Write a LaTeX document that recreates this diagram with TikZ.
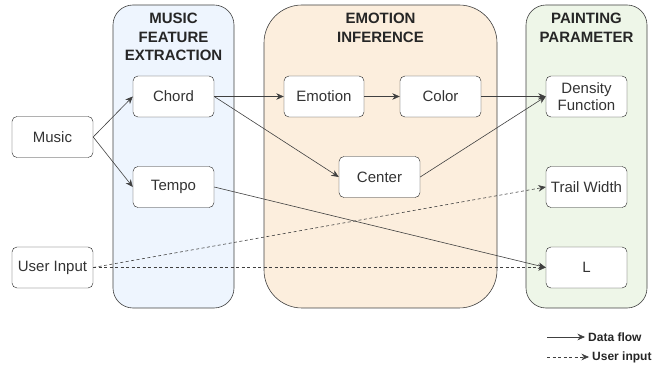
\documentclass[tikz,border=0pt]{standalone}
\usepackage{fontspec}
\setmainfont{Liberation Sans}
\usetikzlibrary{positioning,arrows.meta}
\definecolor{MFBlue}{HTML}{EEF5FE}
\definecolor{MFOrange}{HTML}{FCEEDD}
\definecolor{MFGreen}{HTML}{EEF6E8}
\definecolor{MFLine}{HTML}{404040}
\definecolor{MFEdge}{HTML}{222222}

\begin{document}
\begin{tikzpicture}[
    x=1pt, y=-1pt,
    every node/.style={align=center},
    group/.style={draw=MFLine, semithick, minimum width=121pt, minimum height=303pt, inner sep=0pt},
    title/.style={font=\fontsize{15}{18.5}\selectfont\bfseries, inner sep=0pt, anchor=north, text=black!85},
    box/.style={draw=MFEdge, fill=white, rounded corners=5pt, minimum width=81pt, minimum height=41pt,
      inner sep=1pt, font=\fontsize{15}{17}\selectfont, text=black!80},
    legend/.style={font=\fontsize{12}{14}\selectfont\bfseries, inner sep=0pt, anchor=west, text=black!85},
    arrow/.style={-{Stealth[length=7.5pt,width=6.5pt]}, semithick, color=MFLine},
    dasharrow/.style={arrow, dash pattern=on 3pt off 2.5pt}
  ]
    \useasboundingbox (0,0) rectangle (662,366);

    % groups
    \node[group, fill=MFBlue, rounded corners=20pt] (feature) at (173.5,156.5) {};
    \node[group, fill=MFOrange, rounded corners=38pt, minimum width=233pt] (emotiongrp) at (380.5,156.5) {};
    \node[group, fill=MFGreen, rounded corners=20pt] (painting) at (586.5,156.5) {};
    \node[title] (featuretitle) at (173.5,13) {MUSIC\\FEATURE\\EXTRACTION};
    \node[title] (emotiontitle) at (380.5,13) {EMOTION\\INFERENCE};
    \node[title] (paintingtitle) at (586.5,13) {PAINTING\\PARAMETER};

    % nodes
    \node[box] (music) at (52.5,137) {Music};
    \node[box] (userinput) at (52.5,267.5) {User Input};
    \node[box] (chord) at (173.5,96.5) {Chord};
    \node[box] (tempo) at (173.5,187) {Tempo};
    \node[box, minimum width=80pt] (emotion) at (324,96.5) {Emotion};
    \node[box] (color) at (440.5,96.5) {Color};
    \node[box] (center) at (379.5,177) {Center};
    \node[box, font=\fontsize{15}{17.5}\selectfont] (density) at (586.5,96.5) {Density\\Function};
    \node[box] (trail) at (586.5,187) {Trail Width};
    \node[box] (lpar) at (586.5,267.5) {L};

    % connectors
    \draw[arrow] (music.east) -- (chord.west);
    \draw[arrow] (music.east) -- (tempo.west);
    \draw[arrow] (chord.east) -- (emotion.west);
    \draw[arrow] (emotion.east) -- (color.west);
    \draw[arrow] (chord.east) -- (center.west);
    \draw[arrow] (color.east) -- (density.west);
    \draw[arrow] (center.east) -- (density.west);
    \draw[arrow] (tempo.east) -- (lpar.west);
    \draw[dasharrow] (userinput.east) -- (trail.west);
    \draw[dasharrow] (userinput.east) -- (lpar.west);

    % legend
    \coordinate (flowstart) at (547,337);
    \node[legend] (flowtext) at (588,337) {Data flow};
    \coordinate (inputstart) at (547,357);
    \node[legend] (inputtext) at (592,357) {User input};
    \draw[arrow, shorten >=3pt] (flowstart) -- (flowtext.west);
    \draw[dasharrow, shorten >=3pt] (inputstart) -- (inputtext.west);
  \end{tikzpicture}
\end{document}
